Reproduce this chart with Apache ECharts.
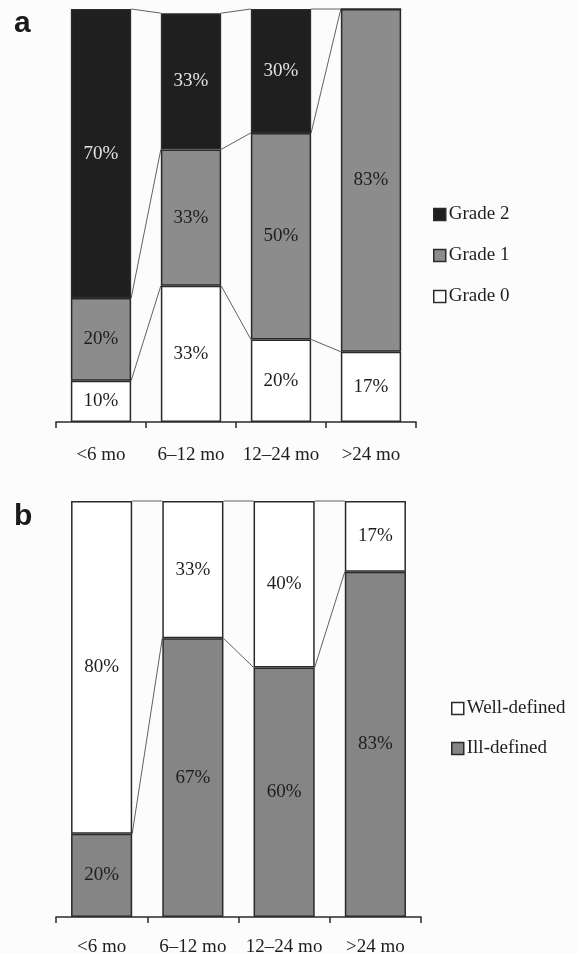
<!DOCTYPE html>
<html>
<head>
<meta charset="utf-8">
<script src="https://cdn.jsdelivr.net/npm/echarts@6/dist/echarts.min.js"></script>
<style>
  html, body { margin: 0; padding: 0; background: #fcfcfc; }
  #chart { width: 578px; height: 954px; }
</style>
</head>
<body>
<div id="chart"></div>
<script>
// Follow-up periods
const categories = ['<6 mo', '6–12 mo', '12–24 mo', '>24 mo'];

// Panel a: grade distribution (%)
const grade0 = [10, 33, 20, 17];
const grade1 = [20, 33, 50, 83];
const grade2 = [70, 33, 30, 0];

// Panel b: margin definition (%)
const illDefined = [20, 67, 60, 83];
const wellDefined = [80, 33, 40, 17];

const SERIF = '"Liberation Serif", "DejaVu Serif", serif';
const FS = 19;
const BAR_RATIO = 0.67;
const EDGE = '#2a2a2a';
const DARK = '#1f1f1f';
const GRAY = '#8c8c8c';
const GRAY_B = '#858585';
const WHITE = '#ffffff';

function cumulative(list) {
  const out = [];
  let acc = categories.map(() => 0);
  list.forEach(arr => {
    acc = acc.map((v, i) => v + arr[i]);
    out.push(acc.slice());
  });
  return out;
}

// Thin lines joining each segment boundary between neighbouring bars
function connectorData(levels) {
  const data = [];
  levels.forEach(lv => {
    for (let i = 0; i < lv.length - 1; i++) data.push([i, lv[i], lv[i + 1]]);
  });
  return data;
}

function connectorSeries(levels, axisIdx) {
  return {
    type: 'custom',
    xAxisIndex: axisIdx,
    yAxisIndex: axisIdx,
    silent: true,
    z: 1,
    encode: { x: 0, y: 1 },
    data: connectorData(levels),
    renderItem: function (params, api) {
      const i = api.value(0);
      const p0 = api.coord([i, api.value(1)]);
      const p1 = api.coord([i + 1, api.value(2)]);
      const half = api.size([1, 0])[0] * BAR_RATIO / 2;
      return {
        type: 'line',
        shape: { x1: p0[0] + half, y1: p0[1], x2: p1[0] - half, y2: p1[1] },
        style: { stroke: '#3a3a3a', lineWidth: 0.8 }
      };
    }
  };
}

function barSeries(name, values, color, labelColor, axisIdx, stack) {
  return {
    name: name,
    type: 'bar',
    stack: stack,
    xAxisIndex: axisIdx,
    yAxisIndex: axisIdx,
    barWidth: (BAR_RATIO * 100) + '%',
    data: values,
    z: 2,
    itemStyle: { color: color, borderColor: EDGE, borderWidth: 1.5 },
    label: {
      show: true,
      position: 'inside',
      fontFamily: SERIF,
      fontSize: FS,
      color: labelColor,
      formatter: p => (p.value > 0 ? p.value + '%' : '')
    },
    emphasis: { disabled: true }
  };
}

function catAxis(gridIndex, margin) {
  return {
    type: 'category',
    gridIndex: gridIndex,
    data: categories,
    boundaryGap: true,
    axisLine: { show: true, lineStyle: { color: '#2a2a2a', width: 1.5 } },
    axisTick: { show: true, interval: 0, length: 6, lineStyle: { color: '#2a2a2a', width: 1.5 } },
    axisLabel: { interval: 0, hideOverlap: false, fontFamily: SERIF, fontSize: FS, color: '#1e1e1e', margin: margin }
  };
}

function valAxis(gridIndex) {
  return {
    type: 'value',
    gridIndex: gridIndex,
    min: 0,
    max: 100,
    show: false,
    splitLine: { show: false }
  };
}

function legendBlock(names, left, top, gap) {
  return {
    orient: 'vertical',
    left: left,
    top: top,
    padding: 0,
    itemWidth: 12,
    itemHeight: 12,
    itemGap: gap,
    selectedMode: false,
    icon: 'rect',
    itemStyle: { borderColor: EDGE, borderWidth: 1.5 },
    textStyle: { fontFamily: SERIF, fontSize: FS, color: '#1e1e1e', padding: [0, 0, 0, -2] },
    data: names
  };
}

const levelsA = cumulative([grade0, grade1, grade2]);
const levelsB = cumulative([illDefined, wellDefined]);

const chart = echarts.init(document.getElementById('chart'), null, { renderer: 'canvas' });

chart.setOption({
  backgroundColor: '#fcfcfc',
  animation: false,
  grid: [
    { left: 56, top: 9, width: 360, height: 413, outerBoundsMode: 'none', containLabel: false },
    { left: 56, top: 501, width: 365, height: 416, outerBoundsMode: 'none', containLabel: false }
  ],
  xAxis: [catAxis(0, 24), catAxis(1, 21)],
  yAxis: [valAxis(0), valAxis(1)],
  legend: [
    legendBlock(['Grade 2', 'Grade 1', 'Grade 0'], 433, 205, 22),
    legendBlock(['Well-defined', 'Ill-defined'], 451, 699, 21)
  ],
  graphic: [
    {
      type: 'text', left: 14, top: 9,
      style: { text: 'a', fontFamily: '"Liberation Sans", Arial, sans-serif', fontWeight: 'bold', fontSize: 30, fill: '#1a1a1a' }
    },
    {
      type: 'text', left: 14, top: 502,
      style: { text: 'b', fontFamily: '"Liberation Sans", Arial, sans-serif', fontWeight: 'bold', fontSize: 30, fill: '#1a1a1a' }
    }
  ],
  series: [
    barSeries('Grade 0', grade0, WHITE, '#1e1e1e', 0, 'a'),
    barSeries('Grade 1', grade1, GRAY, '#1e1e1e', 0, 'a'),
    barSeries('Grade 2', grade2, DARK, '#e2e2e2', 0, 'a'),
    connectorSeries(levelsA, 0),
    barSeries('Ill-defined', illDefined, GRAY_B, '#1e1e1e', 1, 'b'),
    barSeries('Well-defined', wellDefined, WHITE, '#1e1e1e', 1, 'b'),
    connectorSeries(levelsB, 1)
  ]
});
</script>
</body>
</html>
